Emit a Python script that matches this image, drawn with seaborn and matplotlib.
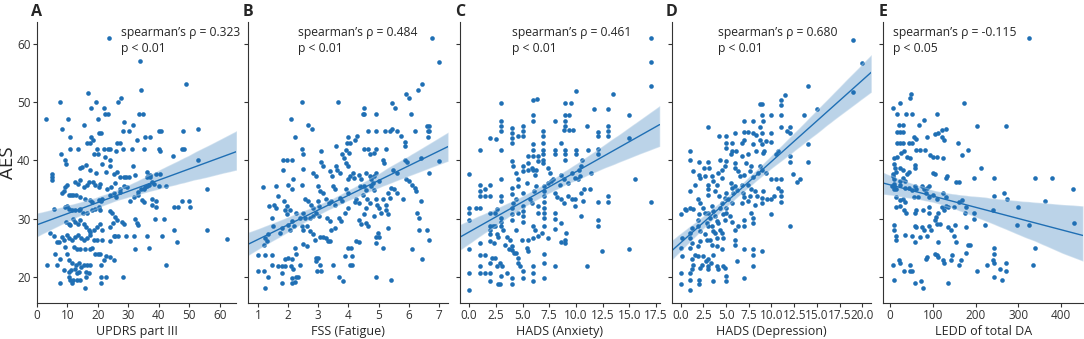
import numpy as np
import matplotlib
matplotlib.use('Agg')
import matplotlib.pyplot as plt
import seaborn as sns

# AES vs. each clinical scale (x, AES)
updrs_pts = [
    (23.5, 61), (33.7, 57), (49, 53), (16.8, 51.5), (34, 52), (27.6, 50.7), (26.6, 50), (7.7, 50),
    (19.4, 50), (17.7, 49), (21.9, 49), (22.5, 48), (23.2, 48), (33.4, 48), (34.7, 48), (3, 47),
    (10.2, 47), (20, 47), (31.4, 46), (15.3, 46), (28.5, 46.5), (20.4, 44.6), (21.1, 44.6), (8.2, 45.4),
    (28.3, 45), (30.2, 45), (39.9, 45), (40.6, 45), (52.8, 45.4), (48, 45), (11, 44), (17.9, 44),
    (18.3, 43.5), (16.6, 43), (17.5, 43), (26.3, 43), (27.2, 43), (35.4, 44), (37.2, 44), (32.9, 43.5),
    (11, 42), (13.4, 42), (22.1, 42), (23.2, 42), (24.1, 42), (19.7, 42), (26.1, 41.6), (28.3, 42),
    (31.3, 42), (35, 42), (39.9, 42), (40.3, 41.6), (47.6, 42), (48.2, 42), (8, 41), (18.6, 41),
    (19.9, 41), (22.5, 40.6), (24.1, 40.1), (44.5, 40.7), (52.8, 40), (31.5, 39), (9.3, 40), (9.5, 39.4),
    (14.8, 38.9), (14.2, 38.6), (16.2, 39.1), (17.5, 38.3), (19.4, 37.8), (21.4, 39.4), (22.8, 38), (24.1, 39),
    (25.2, 37.7), (26.3, 38), (27.4, 37.1), (28.5, 37.1), (29.4, 37.1), (30.1, 37.1), (32.3, 37.4), (36.1, 38),
    (37, 37.4), (37.2, 37.1), (39.2, 37.7), (4.9, 37.7), (4.9, 37.1), (5.1, 36.6), (9.3, 35.4), (9.9, 35.7),
    (12.6, 36.3), (13.4, 36), (14, 36.6), (15.3, 35.4), (16.4, 35.7), (17, 36.3), (18.4, 36.3), (19.2, 35.7),
    (20.3, 35.4), (20.8, 36), (23, 35.1), (24.3, 35.4), (25.7, 36.1), (27.2, 35.1), (28.5, 35.5), (29.6, 35.4),
    (33.1, 34.6), (34, 35.1), (35, 35.1), (35.6, 35.4), (36.1, 35.6), (36.7, 35.7), (37.8, 36.3), (38.3, 36),
    (40, 35.5), (42.5, 35.5), (36.1, 37.1), (40.5, 37.7), (8.3, 34.4), (8.8, 34.7), (10.4, 34), (11.2, 34),
    (12, 34), (12.9, 34), (14.2, 33.7), (15.9, 33.4), (17.5, 33.1), (18.1, 32.9), (20.3, 33.1), (21.1, 33),
    (21.4, 33.4), (24.1, 34), (25.2, 34.3), (26.1, 33.7), (27.4, 34.6), (30.7, 33), (31.8, 33.7), (33.1, 34),
    (35, 32.9), (34.5, 33.1), (37.8, 33.4), (39.1, 33), (44.9, 32), (46.2, 32), (47.6, 33), (49.8, 33),
    (50.2, 32), (37.8, 32.3), (39.1, 31.9), (9.3, 32), (10, 32.1), (10.7, 31.7), (11.5, 31.5), (12.6, 31.4),
    (13.7, 31.4), (14.2, 31.7), (5.5, 31.7), (15.1, 30.9), (16.6, 30.9), (18.1, 31.4), (19.2, 31.7), (20.3, 32),
    (20.8, 31.4), (24.1, 31.3), (24.6, 30.9), (25.7, 30.3), (26.3, 29.7), (32.3, 30), (32.9, 29.3), (33.1, 28.9),
    (38.9, 30), (41.6, 30), (9.6, 29.4), (10.4, 29.1), (11, 28.9), (11.8, 30), (12.6, 29.4), (13.4, 29.1),
    (14.2, 29.7), (15.3, 29.1), (16.2, 28.6), (17, 28), (17.5, 27.7), (18.8, 28.1), (19.7, 28.6), (20.8, 29),
    (21.4, 28), (24.1, 28.6), (25, 29.3), (28, 29.4), (28.5, 29.1), (45, 28), (55.9, 28), (62.5, 26.5),
    (55.7, 35), (4.4, 27.5), (5.5, 27), (8.2, 26.9), (8.8, 26.3), (9.9, 27.1), (10.7, 26.7), (11.5, 26.4),
    (12.6, 26.9), (13.4, 27.1), (14.5, 26.7), (15.3, 26.3), (16.4, 26.6), (17.3, 27.1), (18.6, 26.3), (19.7, 26.4),
    (21.4, 26.4), (23.9, 26.2), (25.2, 27), (25.7, 27), (26.5, 27), (29.4, 27), (31.8, 27), (36.1, 27),
    (41.1, 27), (46, 26), (32.3, 24.7), (36.7, 25), (6.6, 26), (7.4, 26), (6, 24), (9.3, 25.1),
    (9.9, 24), (12.3, 25.1), (13.1, 24.8), (14.2, 24.7), (15.9, 24.8), (17.3, 24.7), (18.1, 25), (19.2, 24),
    (20, 24), (20.8, 24), (22.7, 23.5), (24.1, 23.4), (25.2, 22.9), (7.7, 23.1), (10.4, 22.9), (11.5, 22.3),
    (12.9, 22), (13.7, 22.3), (14.5, 21.7), (15.3, 22), (16.4, 22), (17.3, 22), (21, 22), (21.9, 22.9),
    (3.3, 22), (6.6, 22), (42.2, 22), (8.8, 21.1), (10.4, 20.9), (11.2, 21.1), (12.6, 21.4), (13.7, 20.9),
    (16.2, 20.9), (17, 20.6), (10.4, 20), (11, 19.4), (11.8, 19.5), (13.1, 19.5), (14.2, 19.5), (16.2, 20),
    (21.1, 20), (22.8, 20), (28.3, 20), (7.7, 19), (11.5, 19), (21.1, 19), (15.9, 18), (13.1, 20.6),
]

fss_pts = [
    (6.77, 60.9), (7.0, 56.9), (6.44, 53), (6.3, 52), (5.9, 51.4), (6.0, 50.6), (2.45, 49.9), (3.65, 49.9),
    (5.44, 49.8), (5.55, 49), (4.53, 48.9), (4.48, 47.9), (4.53, 47.9), (4.9, 47.9), (6.06, 47.9), (2.1, 47),
    (2.66, 46), (2.8, 45.4), (5.44, 45.4), (5.37, 45), (6.6, 45.9), (6.66, 45), (2.23, 44), (4.0, 44),
    (4.05, 43), (3.95, 43), (4.3, 44.1), (4.23, 43.4), (4.65, 45), (4.9, 45), (5.2, 45), (5.6, 45),
    (5.73, 44.1), (5.87, 43.1), (5.87, 42.5), (6.2, 45), (6.64, 45), (6.64, 44), (2.45, 42), (2.48, 41),
    (3.1, 41.5), (3.6, 42.4), (3.92, 41.8), (4.03, 41.3), (4.53, 42), (4.64, 42), (4.7, 41), (4.9, 42),
    (4.85, 41.3), (5.23, 42), (5.13, 40.1), (5.18, 39.5), (5.87, 40.1), (5.95, 39.7), (6.4, 40.4), (6.66, 37.8),
    (7.0, 39.8), (6.66, 45.8), (1.84, 40), (1.95, 40), (2.12, 40), (1.82, 38.4), (2.48, 38.5), (2.45, 35.8),
    (2.15, 36.7), (2.0, 35.7), (2.12, 35), (1.16, 35.4), (1.6, 35.5), (2.83, 37.8), (2.94, 37.3), (3.1, 39.7),
    (3.16, 39), (3.0, 35.5), (3.05, 34.7), (3.38, 38.1), (3.44, 37.3), (3.6, 39), (3.63, 38.4), (3.73, 37.8),
    (3.79, 41), (3.85, 40.3), (3.92, 39.5), (4.0, 39), (4.0, 36.7), (4.05, 37.3), (4.15, 37.8), (4.2, 37),
    (4.34, 37.5), (4.42, 36.7), (4.58, 37.8), (4.7, 37.3), (4.85, 37.3), (4.9, 37.8), (4.75, 36.7), (4.8, 36.1),
    (4.37, 35.5), (4.53, 35.5), (4.58, 34.9), (4.75, 35.5), (4.85, 34.9), (5.02, 36.4), (5.46, 38.4), (5.62, 37.8),
    (5.4, 35.3), (5.5, 35), (5.9, 36.7), (6.0, 36.4), (6.1, 35.7), (6.2, 35.3), (6.24, 34.7), (6.4, 33),
    (6.28, 31), (6.33, 30.1), (6.33, 28.1), (6.6, 28.1), (6.1, 24.7), (6.44, 23), (5.62, 34.3), (5.8, 33.3),
    (5.32, 34.4), (5.37, 33.5), (5.16, 33.3), (5.24, 32.4), (4.9, 33.3), (4.96, 32.4), (4.62, 33.3), (4.7, 32.7),
    (4.25, 33.3), (4.36, 32.7), (5.24, 31.5), (5.3, 30.7), (5.02, 31.8), (5.07, 31), (4.85, 30.4), (5.3, 28.4),
    (4.97, 27.5), (5.0, 26.9), (4.58, 29.3), (4.64, 28.7), (4.36, 29.8), (4.42, 29), (4.25, 26.1), (4.36, 25.9),
    (4.09, 25), (4.0, 25), (4.13, 23.5), (4.05, 22), (4.13, 22), (4.9, 26.9), (4.9, 25.8), (5.13, 25),
    (4.9, 20), (5.4, 19.4), (3.87, 23.5), (3.68, 20), (3.82, 19.3), (3.48, 22), (2.99, 23.2), (3.05, 22),
    (3.1, 21), (2.96, 21), (3.27, 26.7), (3.33, 26.1), (3.38, 26.1), (3.05, 26.9), (3.16, 26.9), (3.43, 28.1),
    (3.54, 28.4), (3.29, 30.1), (3.38, 29.5), (3.68, 30.1), (3.76, 29.5), (3.87, 31), (3.98, 31.8), (3.43, 33),
    (3.54, 32.4), (3.73, 33.5), (3.79, 33), (3.27, 33.4), (3.35, 32.7), (3.0, 33), (3.03, 32.1), (2.77, 32.4),
    (2.83, 31.8), (2.66, 33), (2.5, 31), (2.55, 30.1), (2.28, 31), (2.39, 30.1), (2.72, 30.1), (2.83, 30.4),
    (2.94, 31), (3.03, 30.4), (2.63, 28.7), (2.72, 27.8), (2.83, 27.3), (2.88, 26.4), (2.45, 28.7), (2.5, 28.1),
    (2.12, 29.5), (2.19, 28.7), (2.0, 28.9), (2.06, 28.1), (1.9, 31.5), (1.95, 30.7), (1.97, 32.1), (2.08, 31.5),
    (1.86, 33), (1.51, 28.7), (1.79, 28.4), (1.73, 27.5), (1.55, 32.4), (1.6, 31.8), (1.68, 33.8), (1.38, 32.1),
    (1.46, 30.1), (1.35, 27.3), (1.24, 26.7), (1.3, 26.1), (1.19, 25.4), (1.02, 23.8), (1.24, 23.8), (1.46, 23.8),
    (2.23, 25), (2.28, 24), (2.5, 25.6), (2.63, 25.3), (1.9, 23), (2.0, 23.3), (2.14, 23), (1.68, 21.8),
    (1.79, 21.8), (1.9, 21.8), (2.1, 21.8), (2.17, 21.3), (2.41, 22), (1.46, 22.1), (0.99, 21), (1.22, 21),
    (1.33, 20), (1.79, 20.7), (2.12, 19.8), (2.28, 20), (2.34, 20), (2.12, 19), (2.23, 19.1), (1.79, 19),
    (1.24, 18), (2.91, 23.2), (2.94, 22.7), (4.5, 30.8), (4.58, 31.8), (4.23, 32.8), (4.47, 34.1), (3.92, 35),
    (3.98, 34.4), (3.49, 35.5), (3.54, 35), (3.16, 34.4), (2.55, 33.4), (6.66, 26.4),
]

anx_pts = [
    (17, 60.9), (17, 56.9), (17, 52.8), (17, 32.9), (15.5, 36.8), (15, 43.8), (15, 47.7), (15, 24.8),
    (13.5, 51.3), (13, 48.8), (13, 45.8), (13, 45), (13, 44.1), (13, 33.8), (13, 32.9), (12.4, 24.4),
    (11.7, 48.8), (11.05, 45.8), (12.05, 44.8), (12.05, 44.1), (12.05, 42), (12.05, 41), (12.05, 32.9), (12.05, 29.7),
    (12.05, 28.7), (11.05, 21.8), (10, 51.8), (9.5, 49.8), (9, 49.8), (9, 47.8), (9.4, 47.8), (9, 46.8),
    (9, 45.8), (8, 46.7), (9.4, 45.1), (9.7, 45.1), (8.9, 45.1), (8.6, 42.9), (8, 41.8), (8, 41),
    (9, 41.8), (9, 41), (9, 40.1), (10, 41.8), (10, 41), (10.55, 40.1), (10.5, 39), (11.1, 41.7),
    (11.4, 37.8), (10.3, 38.4), (10.4, 37.3), (10.2, 36.7), (9.6, 37.8), (9.9, 37), (8.9, 36.7), (9.25, 36.1),
    (8.6, 37.5), (8.5, 35.8), (10.5, 34.4), (10.8, 35), (11.3, 35), (9.25, 33.8), (9.6, 33.3), (8.6, 33.3),
    (8.9, 32.7), (8, 34.4), (8.2, 33.7), (7.9, 36.8), (7.4, 36.1), (7.7, 36.4), (6.9, 45), (6.9, 44.1),
    (6.9, 43), (6.9, 41.8), (6.9, 41), (6.9, 40.1), (6.9, 39.5), (6, 50.4), (6.4, 50.5), (6, 47.8),
    (6, 46.7), (6, 42.8), (6, 41.8), (6, 40.7), (7, 35.5), (7, 34.7), (7, 33.8), (7, 32.9),
    (7, 31.8), (7, 31), (7, 30.1), (7, 28.7), (8, 31), (8, 30), (9, 26.4), (9, 25.8),
    (8.6, 25.9), (8, 21.8), (7, 24), (7, 22.4), (7, 19.8), (6.8, 27.5), (6.45, 27), (6, 28.7),
    (6.15, 28.1), (6, 26.7), (5.4, 25), (5.5, 24.4), (6, 21.8), (6, 20.7), (6, 19.3), (5.06, 19.8),
    (5.06, 21), (5.06, 30.4), (5.06, 29.4), (5.06, 32.1), (5.06, 31.3), (5.06, 34.4), (5.4, 36.1), (5.5, 38.4),
    (5.06, 39), (5.06, 38.1), (5.06, 45.8), (5.06, 45), (5.06, 44.1), (4.6, 44.1), (4, 45.5), (4, 44.7),
    (4, 43.8), (4, 43), (4, 39.8), (4.1, 39), (4.35, 37.8), (4.6, 36.7), (4.6, 35.5), (4, 35.3),
    (4, 34.2), (4.1, 32.7), (4, 31.8), (4, 30.7), (4, 29.8), (4.35, 33.3), (4.55, 30.9), (4.35, 28.1),
    (3.8, 26.4), (4, 25.3), (4.4, 24.1), (4.6, 23.3), (4, 24.6), (4.2, 24.1), (4, 19.8), (4, 18.7),
    (3, 20.1), (2.7, 18.7), (2.9, 18.7), (3, 49.8), (3, 46.7), (3, 45.8), (3, 45), (3, 41.8),
    (3, 36.7), (3, 33.8), (3, 33), (3, 30.1), (3, 29.4), (3, 28.7), (2.6, 31.7), (2.4, 31),
    (2, 35.8), (2, 33.8), (2, 30.9), (2, 28.8), (2.2, 28.8), (2.4, 28.8), (2, 28.1), (2, 27.3),
    (2, 26.1), (2.3, 25.8), (2.6, 27.3), (2.7, 26.9), (3.2, 28.1), (3.5, 26.9), (3.4, 25.5), (3.7, 24.8),
    (2.1, 23.3), (2, 22.4), (2.4, 23.3), (2.6, 21.8), (2.9, 22.4), (3.1, 21.8), (2, 20.7), (2, 19.3),
    (2.5, 43.7), (2, 43.8), (1.5, 35.1), (1.5, 33.8), (1, 35.8), (1, 34.7), (1, 33.8), (1, 31.8),
    (1, 25.8), (1, 23.8), (1, 21.8), (1, 20.7), (1.5, 23.8), (1.5, 20.7), (1, 41.8), (0, 37.7),
    (0, 31.8), (0, 31), (0, 29.8), (0, 24.8), (0, 20.7), (0, 17.8), (0.6, 31.8), (3.5, 20.7),
    (4.55, 22.4), (4.75, 21.8), (4.95, 26.4), (5.5, 26.4), (5.7, 33.3), (5.85, 32.7), (6.1, 34.7), (6.3, 35.5),
    (6.45, 32.1), (6.45, 31), (5.85, 38.7), (6.3, 38.4), (7.4, 38.6), (7.6, 37.8), (6.45, 40.7), (6.45, 39.8),
    (5.5, 40.7), (5.5, 39.5), (8.6, 29.3), (9.1, 27.5), (9.9, 33.3), (9.9, 32.1), (10.65, 33), (10.5, 30.4),
    (8, 28.2), (7.4, 26.7), (6, 38.4), (6.15, 37.5),
]

dep_pts = [
    (19, 60.7), (20, 56.7), (19, 51.7), (14.05, 52.7), (15, 48.7), (13.55, 47.7), (14, 42.7), (14, 39.7),
    (11.5, 51.1), (11, 50.4), (11, 49.4), (11, 47.7), (11, 45.7), (10, 47.7), (10, 44.7), (10, 43.1),
    (12, 45.7), (12, 44.7), (11.7, 45), (12, 40.8), (12, 39.7), (12.35, 37.7), (13.1, 36.8), (12.8, 36.2),
    (10.7, 41.5), (10.5, 41), (12, 28.7), (10, 36.8), (10.5, 36.8), (11, 36.8), (10.7, 35.3), (11, 34.7),
    (11, 33.8), (11, 32.8), (10.3, 33.8), (10, 33.3), (9.5, 33.3), (10, 30.7), (8.7, 49.7), (8.9, 49.7),
    (8.9, 47.7), (9.05, 46.7), (8.7, 45.7), (8.9, 44.7), (8.7, 43.5), (8.9, 42.7), (7, 46.7), (7.95, 46.7),
    (7, 44.8), (7.4, 44.8), (7.95, 44.7), (8.3, 44.4), (7, 43.5), (7.95, 42.7), (8.3, 41.5), (9.05, 41.3),
    (9.2, 41.5), (5.95, 44.7), (5, 44.1), (5, 43), (5, 42.1), (4.2, 44.1), (3, 45.7), (5, 39.8),
    (4.85, 39), (5.65, 41.5), (5.5, 41), (5.95, 39.5), (6, 38.7), (6.7, 40.7), (7.4, 41), (7.2, 39.5),
    (7.7, 39), (7.6, 38.1), (8.7, 39), (8.5, 37.8), (7.95, 37.1), (7, 37.4), (6.3, 38.1), (6.5, 37.3),
    (5.5, 36.1), (5.6, 35.3), (5.95, 35.5), (6.25, 34.9), (6.7, 35.8), (6.85, 34.4), (7.4, 35.8), (7.7, 35),
    (8.15, 34.7), (8.45, 33.8), (9.05, 34.7), (8.9, 33.5), (8.9, 32.7), (7.6, 33.8), (7.4, 33), (6.95, 33.7),
    (6.7, 32.7), (8.15, 32.4), (7.7, 31), (7.95, 30.1), (7, 29.8), (7, 28.7), (7.95, 29.3), (6.3, 28.7),
    (5.95, 28.1), (5.95, 26.4), (5.95, 25.5), (5, 31.8), (5, 31), (4.7, 30.7), (4.85, 29.8), (4.5, 32.7),
    (4.3, 31.8), (5, 34.4), (4.85, 33.5), (4.2, 33.8), (3.95, 35.7), (3.75, 34.7), (3.4, 37.3), (3.6, 36.4),
    (3, 39.7), (3.1, 38.7), (3, 35), (3, 34.1), (3, 35.8), (2.6, 38.7), (2.65, 37.3), (2, 39.7),
    (2, 37.5), (2.1, 37), (1.4, 38.1), (1, 41.5), (1, 40.1), (1, 34.7), (1.6, 35.8), (1.95, 33.4),
    (2.1, 32.7), (3.4, 32.1), (3.6, 31.3), (3, 31), (3.2, 30.1), (3.75, 30.4), (3.95, 29.5), (2.5, 31.8),
    (2.65, 31), (2.05, 30.7), (1.95, 29.8), (1, 31.8), (1.4, 31.7), (0.5, 31.7), (0, 30.7), (1.95, 28.7),
    (2.1, 27.8), (1.2, 28.4), (1, 27.5), (2.85, 29.3), (3, 28.7), (3.4, 28.7), (3.6, 27.8), (4.1, 29.3),
    (4.3, 28.1), (4.5, 27.5), (4.7, 26.6), (3.75, 27.5), (3.95, 26.6), (2.65, 27.3), (2.85, 26.4), (2.1, 26.1),
    (1.95, 25.3), (1, 26.7), (1.2, 25.8), (0.1, 26.7), (0, 25), (0.1, 23.5), (1, 25), (3.2, 26.4),
    (3.4, 25.5), (3.95, 25.3), (3.6, 23.8), (4.5, 24.7), (1.6, 23.8), (1.95, 23.5), (1.2, 23), (1.4, 22.1),
    (2.5, 23.5), (2.75, 22.7), (2.3, 22.1), (2.1, 21.5), (3, 23), (3.3, 22.4), (3, 21.8), (3, 21.3),
    (3.95, 21.8), (4.05, 21.3), (4.7, 21.9), (4.85, 21.5), (5, 20.1), (5, 19.3), (6.15, 22.7), (7, 24.7),
    (7.95, 24.7), (7.95, 23.8), (7.95, 21.8), (8.9, 24.4), (7, 19.8), (3.6, 19.3), (2, 19.5), (2, 18.7),
    (1, 20.7), (1, 19.5), (1, 17.8), (0, 20.7), (0, 18.7), (1.2, 21.3), (0.55, 31.5), (5.4, 30.4),
    (5.65, 29.4), (5.2, 33.3), (5.65, 32.6), (5.75, 34.4), (4.5, 37), (4.55, 38.4), (4.05, 37.8), (5.6, 43),
    (6.1, 41.5), (4.3, 40.1), (6.7, 43), (9.4, 43.3), (8.9, 38.3), (9.4, 37.8),
]

ledd_pts = [
    (326, 60.9), (7, 48.9), (22, 49.8), (46, 50.7), (48, 51.3), (17, 47.9), (37, 47.9), (52, 47.9),
    (110, 47.9), (172, 49.8), (20, 46), (29, 46), (78, 46.9), (67, 46), (203, 45.9), (270, 45.9),
    (122, 45.1), (130, 45.3), (104, 44.5), (113, 44.6), (17, 44.9), (24, 44.9), (29, 44.9), (55, 44),
    (61, 43.7), (87, 44), (122, 44), (126, 43.5), (159, 42.9), (17, 42.9), (24, 42.9), (29, 42.9),
    (43, 42.9), (50, 42.9), (61, 41.8), (70, 41.8), (81, 41.8), (168, 40.9), (181, 41.8), (32, 41.6),
    (26, 41.3), (9, 40.3), (17, 40.6), (39, 40.6), (46, 40.3), (93, 40.9), (100, 40.5), (110, 40.6),
    (124, 40.3), (57, 39.1), (58, 38.6), (23, 38.6), (30, 38.4), (9, 39.4), (11, 38.6), (13, 38),
    (7, 37.7), (6, 37.3), (43, 38), (39, 37.7), (100, 37.8), (104, 37.7), (133, 37.3), (130, 36.9),
    (155, 36.3), (160, 36.3), (213, 38.6), (196, 36.9), (243, 36.9), (339, 36.9), (378, 36.9), (429, 35),
    (267, 34.4), (243, 33.9), (274, 33.3), (363, 33), (300, 31.9), (9, 36.7), (9, 36), (10, 35.5),
    (13, 35), (22, 36.5), (23, 35.7), (30, 36.9), (35, 36.4), (35, 35.2), (43, 35.2), (52, 34.9),
    (57, 35.5), (61, 35), (74, 35.5), (78, 35), (87, 35.2), (91, 35.5), (5, 35.5), (8, 35),
    (13, 33.7), (22, 33.1), (30, 33.4), (35, 32.9), (55, 33.7), (65, 33.7), (84, 34.3), (91, 33.7),
    (100, 34), (109, 33.3), (124, 34.4), (130, 33.7), (161, 32.9), (168, 33.1), (122, 32), (130, 32.1),
    (13, 32), (22, 32.1), (32, 31.4), (37, 30.9), (61, 31.4), (57, 30.9), (76, 31.4), (90, 32),
    (91, 31), (107, 30.3), (113, 30.9), (126, 31.4), (135, 31.9), (150, 31.9), (177, 31.9), (174, 31),
    (197, 30.9), (197, 29.9), (241, 31.4), (296, 28.9), (324, 28.9), (430, 29.3), (9, 28.9), (9, 28.1),
    (13, 27), (13, 26.4), (35, 27.1), (57, 28.7), (61, 28.6), (74, 28.6), (78, 28), (91, 28.7),
    (96, 28), (104, 29.7), (109, 29.1), (116, 29.1), (135, 28.6), (142, 28), (152, 28.9), (178, 28.6),
    (222, 28.9), (52, 27), (57, 26), (70, 26.9), (87, 27), (113, 26), (150, 27), (154, 26),
    (183, 25.4), (187, 25.4), (178, 24.1), (243, 25), (243, 24), (340, 24.9), (7, 22), (20, 22.9),
    (22, 22.3), (32, 21), (46, 21), (52, 21), (46, 22), (83, 23), (87, 23.4), (104, 24),
    (109, 23.7), (113, 23.4), (124, 22.9), (126, 22.3), (142, 22.9), (145, 23.7), (161, 22), (165, 22.9),
    (203, 21), (226, 22), (241, 22.9), (243, 22.3), (257, 21.4), (270, 22.3), (270, 21), (335, 22),
    (9, 19.4), (59, 18.9), (72, 19.3), (76, 18), (135, 18.9), (243, 20), (262, 19.4),
]

panels = [
    ('A', updrs_pts, 'UPDRS part III', '0.323', '0.01', 0.42, np.arange(0, 61, 10), '{:.0f}'),
    ('B', fss_pts, 'FSS (Fatigue)', '0.484', '0.01', 0.25, np.arange(1, 8, 1), '{:.0f}'),
    ('C', anx_pts, 'HADS (Anxiety)', '0.461', '0.01', 0.26, np.arange(0, 17.6, 2.5), '{:.1f}'),
    ('D', dep_pts, 'HADS (Depression)', '0.680', '0.01', 0.23, np.arange(0, 20.1, 2.5), '{:.1f}'),
    ('E', ledd_pts, 'LEDD of total DA', '-0.115', '0.05', 0.05, np.arange(0, 401, 100), '{:.0f}'),
]

sns.set_style('ticks')
plt.rcParams['font.family'] = ['Open Sans', 'DejaVu Sans']
plt.rcParams['axes.edgecolor'] = '#333333'
plt.rcParams['xtick.color'] = '#333333'
plt.rcParams['ytick.color'] = '#333333'

blue = '#1f6fb4'

fig, axes = plt.subplots(1, 5, figsize=(10.84, 3.39), dpi=100, sharey=True)
fig.subplots_adjust(left=0.034, right=0.999, bottom=0.106, top=0.935, wspace=0.06)

for ax, (letter, pts, xlabel, rho, pval, tx, xticks, fmt) in zip(axes, panels):
    xs = np.array([p[0] for p in pts])
    ys = np.array([p[1] for p in pts])
    sns.regplot(x=xs, y=ys, ax=ax, color=blue, truncate=False, seed=0,
                scatter_kws={'s': 11, 'linewidths': 0, 'alpha': 1},
                line_kws={'lw': 1})
    # make the confidence band a little stronger, like the reference
    for c in ax.collections[1:]:
        c.set_alpha(0.3)
    ax.set_xticks(xticks)
    ax.set_xticklabels([fmt.format(t) for t in xticks])
    ax.set_yticks([20, 30, 40, 50, 60])
    ax.tick_params(labelsize=8.5, length=3, width=0.8, pad=1.5)
    ax.set_xlabel(xlabel, fontsize=9, labelpad=2)
    sns.despine(ax=ax)
    ax.text(tx, 0.985, f"spearman\u2019s \u03c1 = {rho}\np < {pval}", transform=ax.transAxes,
            fontsize=8.7, va='top', ha='left', linespacing=1.3)
    ax.text(0.0, 1.022, letter, transform=ax.transAxes, fontsize=11.5, fontweight='bold',
            ha='center', va='baseline')

axes[0].set_ylim(15.5, 63.7)
axes[0].set_ylabel('AES', fontsize=13.5)
axes[0].yaxis.set_label_coords(-0.1, 0.5)

fig.savefig('out.png', dpi=100)
